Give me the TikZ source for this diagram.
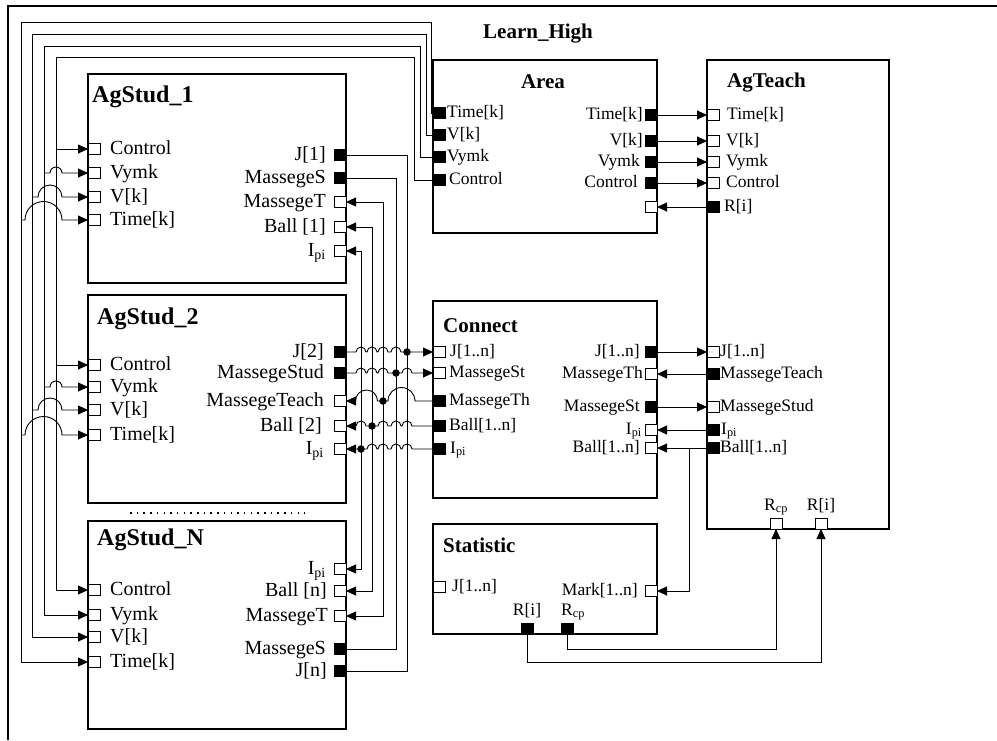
\documentclass[tikz,border=0pt]{standalone}
\usepackage{fontspec}
\setmainfont{Liberation Serif}
\usetikzlibrary{arrows.meta,positioning}

\begin{document}
\begin{tikzpicture}[
  x=1pt, y=1pt,
  blk/.style={draw, line width=1.8pt, inner sep=0pt},
  ttl/.style={font=\fontsize{21}{24}\selectfont\bfseries, inner sep=0pt},
  ttlA/.style={font=\fontsize{24}{27}\selectfont\bfseries, inner sep=0pt},
  lbl/.style={font=\fontsize{20}{22}\selectfont, inner sep=0pt,
              text height=14pt, text depth=4pt},
  lbs/.style={font=\fontsize{17.5}{20}\selectfont, inner sep=0pt,
              text height=12pt, text depth=3.5pt},
  prt/.style={draw, fill=white, line width=0.8pt, minimum width=12pt,
              minimum height=11pt, inner sep=0pt, outer sep=0pt},
  prtF/.style={prt, fill=black},
  ln/.style={line width=0.9pt},
  arr/.style={ln, -{Triangle[length=10pt,width=9pt]}},
  arrb/.style={ln, {Triangle[length=10pt,width=9pt]}-{Triangle[length=10pt,width=9pt]}},
  jdot/.style={circle, fill=black, inner sep=0pt, minimum size=7.5pt}
]
\useasboundingbox (0,0) rectangle (997,-740);
\draw[line width=2.4pt] (8,-740) -- (8,-6) -- (997,-6);
\node[ttl, anchor=base west] (lh) at (483,-38) {Learn\_High};

% students
\node[blk, minimum width=258pt, minimum height=209pt] (s1) at (217,-178.5) {};
\node[ttlA, anchor=base west] (s1name) at (92,-102) {AgStud\_1};
\node[blk, minimum width=258pt, minimum height=208pt] (s2) at (217,-399) {};
\node[ttlA, anchor=base west] (s2name) at (97,-324) {AgStud\_2};
\node[blk, minimum width=258pt, minimum height=208pt] (sn) at (217,-625) {};
\node[ttlA, anchor=base west] (snname) at (97,-545) {AgStud\_N};
\draw[line width=1.5pt, dash pattern=on 1.5pt off 5.2pt] (130,-513) -- (305,-513);

\node[prt] (s1c) at (94,-149) {};
\node[prt] (s1y) at (94,-173) {};
\node[prt] (s1v) at (94,-197) {};
\node[prt] (s1t) at (94,-220) {};
\node[lbl, right=10pt of s1c] (s1cL) {Control};
\node[lbl, right=10pt of s1y] (s1yL) {Vymk};
\node[lbl, right=10pt of s1v] (s1vL) {V[k]};
\node[lbl, right=10pt of s1t] (s1tL) {Time[k]};
\node[prtF] (s1j) at (340,-155) {};
\node[prtF] (s1ms) at (340,-178) {};
\node[prt] (s1mt) at (340,-202) {};
\node[prt] (s1b) at (340,-227) {};
\node[prt] (s1i) at (340,-251) {};
\node[lbl, left=8pt of s1j] (s1jL) {J[1]};
\node[lbl, left=8pt of s1ms] (s1msL) {MassegeS};
\node[lbl, left=8pt of s1mt] (s1mtL) {MassegeT};
\node[lbl, left=8pt of s1b] (s1bL) {Ball [1]};
\node[lbl, left=8pt of s1i] (s1iL) {I\textsubscript{pi}};

\node[prt] (s2c) at (94,-365) {};
\node[prt] (s2y) at (94,-387) {};
\node[prt] (s2v) at (94,-410) {};
\node[prt] (s2t) at (94,-435) {};
\node[lbl, right=10pt of s2c] (s2cL) {Control};
\node[lbl, right=10pt of s2y] (s2yL) {Vymk};
\node[lbl, right=10pt of s2v] (s2vL) {V[k]};
\node[lbl, right=10pt of s2t] (s2tL) {Time[k]};
\node[prtF] (s2j) at (340,-352) {};
\node[prtF] (s2ms) at (340,-373) {};
\node[prt] (s2mt) at (340,-401) {};
\node[prt] (s2b) at (340,-426) {};
\node[prt] (s2i) at (340,-449) {};
\node[lbl, left=10pt of s2j] (s2jL) {J[2]};
\node[lbl, left=10pt of s2ms] (s2msL) {MassegeStud};
\node[lbl, left=10pt of s2mt] (s2mtL) {MassegeTeach};
\node[lbl, left=12pt of s2b] (s2bL) {Ball [2]};
\node[lbl, left=10pt of s2i] (s2iL) {I\textsubscript{pi}};

\node[prt] (snc) at (94,-590) {};
\node[prt] (sny) at (94,-615) {};
\node[prt] (snv) at (94,-637) {};
\node[prt] (snt) at (94,-662) {};
\node[lbl, right=10pt of snc] (sncL) {Control};
\node[lbl, right=10pt of sny] (snyL) {Vymk};
\node[lbl, right=10pt of snv] (snvL) {V[k]};
\node[lbl, right=10pt of snt] (sntL) {Time[k]};
\node[prt] (sni) at (340,-569) {};
\node[prt] (snb) at (340,-591) {};
\node[prt] (snmt) at (340,-616) {};
\node[prtF] (snms) at (340,-649) {};
\node[prtF] (snj) at (340,-671) {};
\node[lbl, left=8pt of sni] (sniL) {I\textsubscript{pi}};
\node[lbl, left=7pt of snb] (snbL) {Ball [n]};
\node[lbl, left=6pt of snmt] (snmtL) {MassegeT};
\node[lbl, left=8pt of snms] (snmsL) {MassegeS};
\node[lbl, left=7pt of snj] (snjL) {J[n]};

% area
\node[blk, minimum width=224pt, minimum height=173pt] (ar) at (545,-146.5) {};
\node[ttl, anchor=base] (arname) at (543,-88) {Area};
\node[prtF] (art) at (439,-113) {};
\node[prtF] (arv) at (439,-135) {};
\node[prtF] (ary) at (439,-157) {};
\node[prtF] (arc) at (439,-180) {};
\node[lbs, right=2pt of art] (artL) {Time[k]};
\node[lbs, right=2pt of arv] (arvL) {V[k]};
\node[lbs, right=2pt of ary] (aryL) {Vymk};
\node[lbs, right=4pt of arc] (arcL) {Control};
\node[prtF] (arto) at (651,-115) {};
\node[prtF] (arvo) at (651,-141) {};
\node[prtF] (aryo) at (651,-162) {};
\node[prtF] (arco) at (651,-183) {};
\node[prt] (arri) at (651,-207) {};
\node[lbs, left=2pt of arto] (artoL) {Time[k]};
\node[lbs, left=2pt of arvo] (arvoL) {V[k]};
\node[lbs, left=5pt of aryo] (aryoL) {Vymk};
\node[lbs, left=7pt of arco] (arcoL) {Control};

% teacher
\node[blk, minimum width=182pt, minimum height=469pt] (te) at (798,-294.5) {};
\node[ttl, anchor=base west] (tename) at (727,-87) {AgTeach};
\node[prt] (tet) at (713,-115) {};
\node[prt] (tev) at (713,-141) {};
\node[prt] (tey) at (713,-162) {};
\node[prt] (tec) at (713,-183) {};
\node[prtF] (teri) at (713,-207) {};
\node[lbs, right=8pt of tet] (tetL) {Time[k]};
\node[lbs, right=7pt of tev] (tevL) {V[k]};
\node[lbs, right=7pt of tey] (teyL) {Vymk};
\node[lbs, right=7pt of tec] (tecL) {Control};
\node[lbs, right=5pt of teri] (teriL) {R[i]};
\node[prt] (tej) at (713,-352) {};
\node[prtF] (temt) at (713,-374) {};
\node[prt] (tems) at (713,-407) {};
\node[prtF] (tei) at (713,-430) {};
\node[prtF] (teb) at (713,-448) {};
\node[lbs, right=1pt of tej] (tejL) {J[1..n]};
\node[lbs, right=1pt of temt] (temtL) {MassegeTeach};
\node[lbs, right=1pt of tems] (temsL) {MassegeStud};
\node[lbs, right=2pt of tei] (teiL) {I\textsubscript{pi}};
\node[lbs, right=1pt of teb] (tebL) {Ball[1..n]};
\node[prt] (tercp) at (776,-523.5) {};
\node[prt] (teri2) at (821,-523.5) {};
\node[lbs, above=4pt of tercp] (tercpL) {R\textsubscript{cp}};
\node[lbs, above=4pt of teri2] (teri2L) {R[i]};

% connect
\node[blk, minimum width=224pt, minimum height=197pt] (co) at (545,-399.5) {};
\node[ttl, anchor=base west] (coname) at (443,-332) {Connect};
\node[prt] (coj) at (439,-352) {};
\node[prt] (coms) at (439,-373) {};
\node[prtF] (comt) at (439,-401) {};
\node[prtF] (cob) at (439,-426) {};
\node[prtF] (coi) at (439,-449) {};
\node[lbs, right=5pt of coj] (cojL) {J[1..n]};
\node[lbs, right=4pt of coms] (comsL) {MassegeSt};
\node[lbs, right=4pt of comt] (comtL) {MassegeTh};
\node[lbs, right=4pt of cob] (cobL) {Ball[1..n]};
\node[lbs, right=5pt of coi] (coiL) {I\textsubscript{pi}};
\node[prtF] (cojo) at (651,-352) {};
\node[prt] (comto) at (651,-374) {};
\node[prtF] (comso) at (651,-407) {};
\node[prt] (coio) at (651,-430) {};
\node[prt] (cobo) at (651,-448) {};
\node[lbs, left=5pt of cojo] (cojoL) {J[1..n]};
\node[lbs, left=2pt of comto] (comtoL) {MassegeTh};
\node[lbs, left=5pt of comso] (comsoL) {MassegeSt};
\node[lbs, left=3pt of coio] (coioL) {I\textsubscript{pi}};
\node[lbs, left=5pt of cobo] (coboL) {Ball[1..n]};

% statistic
\node[blk, minimum width=224pt, minimum height=110pt] (st) at (545,-579) {};
\node[ttl, anchor=base west] (stname) at (443,-552) {Statistic};
\node[prt] (stj) at (439,-587) {};
\node[lbs, right=7pt of stj] (stjL) {J[1..n]};
\node[prt] (stmk) at (651,-591) {};
\node[lbs, left=7pt of stmk] (stmkL) {Mark[1..n]};
\node[prtF] (stri) at (527,-628.5) {};
\node[prtF] (strcp) at (567,-628.5) {};
\node[lbs, above=4pt of stri] (striL) {R[i]};
\node[lbs, above=4pt of strcp.north west, anchor=south west] (strcpL) {R\textsubscript{cp}};

% bus from Area to the students
\coordinate (bt) at (21,-22);
\coordinate (bv) at (32,-34);
\coordinate (by) at (44,-46);
\coordinate (bc) at (56,-57);
\draw[arr] (art.west) -| (431,-22) -- (bt) |- (snt.west);
\draw[arr] (arv.west) -| (426,-34) -- (bv) |- (snv.west);
\draw[arr] (ary.west) -| (420,-46) -- (by) |- (sny.west);
\draw[arr] (arc.west) -| (414,-57) -- (bc) |- (snc.west);
\draw[arr] (bc |- s1c) -- (s1c.west);
\draw[arr] (by |- s1y) -- ++(6,0) arc[start angle=180,end angle=0,radius=6] -- (s1y.west);
\draw[arr] (bv |- s1v) -- ++(6,0) arc[start angle=180,end angle=0,radius=12] -- (s1v.west);
\draw[arr] (bt |- s1t) -- ++(4,0) arc[start angle=180,end angle=0,radius=18.5] -- (s1t.west);
\draw[arr] (bc |- s2c) -- (s2c.west);
\draw[arr] (by |- s2y) -- ++(6,0) arc[start angle=180,end angle=0,radius=6] -- (s2y.west);
\draw[arr] (bv |- s2v) -- ++(6,0) arc[start angle=180,end angle=0,radius=12] -- (s2v.west);
\draw[arr] (bt |- s2t) -- ++(4,0) arc[start angle=180,end angle=0,radius=18.5] -- (s2t.west);

% bus between the students and Connect
\coordinate (ri) at (361,0);
\coordinate (rb) at (372,0);
\coordinate (rmt) at (383,0);
\coordinate (rms) at (396,0);
\coordinate (rj) at (407,0);
\draw[ln] (s1j.east) -| (rj |- snj) -- (snj.east);
\draw[ln] (s1ms.east) -| (rms |- snms) -- (snms.east);
\draw[arrb] (s1mt.east) -| (rmt |- snmt) -- (snmt.east);
\draw[arrb] (s1b.east) -| (rb |- snb) -- (snb.east);
\draw[arrb] (s1i.east) -| (ri |- sni) -- (sni.east);
\draw[arr] (s2j.east) -- (356,-352) arc[start angle=180,end angle=0,radius=5]
  -- (367,-352) arc[start angle=180,end angle=0,radius=5]
  -- (378,-352) arc[start angle=180,end angle=0,radius=5]
  -- (391,-352) arc[start angle=180,end angle=0,radius=5] -- (coj.west);
\draw[arr] (s2ms.east) -- (356,-373) arc[start angle=180,end angle=0,radius=5]
  -- (367,-373) arc[start angle=180,end angle=0,radius=5]
  -- (378,-373) arc[start angle=180,end angle=0,radius=5]
  -- (402,-373) arc[start angle=180,end angle=0,radius=5] -- (coms.west);
\draw[arr] (comt.west) -- (415,-401) arc[start angle=0,end angle=180,radius=13.5]
  -- (377.5,-401) arc[start angle=0,end angle=180,radius=11] -- (s2mt.east);
\draw[arr] (cob.west) -- (412,-426) arc[start angle=0,end angle=180,radius=5]
  -- (401,-426) arc[start angle=0,end angle=180,radius=5]
  -- (388,-426) arc[start angle=0,end angle=180,radius=5]
  -- (366,-426) arc[start angle=0,end angle=180,radius=5] -- (s2b.east);
\draw[arr] (coi.west) -- (412,-449) arc[start angle=0,end angle=180,radius=5]
  -- (401,-449) arc[start angle=0,end angle=180,radius=5]
  -- (388,-449) arc[start angle=0,end angle=180,radius=5]
  -- (377,-449) arc[start angle=0,end angle=180,radius=5] -- (s2i.east);
\node[jdot] (dj) at (rj |- s2j) {};
\node[jdot] (dms) at (rms |- s2ms) {};
\node[jdot] (dmt) at (rmt |- s2mt) {};
\node[jdot] (db) at (rb |- s2b) {};
\node[jdot] (di) at (ri |- s2i) {};

% Area, Connect, Statistic and AgTeach
\draw[arr] (arto.east) -- (tet.west);
\draw[arr] (arvo.east) -- (tev.west);
\draw[arr] (aryo.east) -- (tey.west);
\draw[arr] (arco.east) -- (tec.west);
\draw[arr] (teri.west) -- (arri.east);
\draw[arr] (cojo.east) -- (tej.west);
\draw[arr] (temt.west) -- (comto.east);
\draw[arr] (comso.east) -- (tems.west);
\draw[arr] (tei.west) -- (coio.east);
\draw[arr] (teb.west) -- (cobo.east);
\draw[arr] (teb.west) -- ++(-18,0) |- (stmk.east);
\draw[arr] (strcp.south) -- ++(0,-15) -| (tercp.south);
\draw[arr] (stri.south) -- ++(0,-28) -| (teri2.south);
\end{tikzpicture}
\end{document}
